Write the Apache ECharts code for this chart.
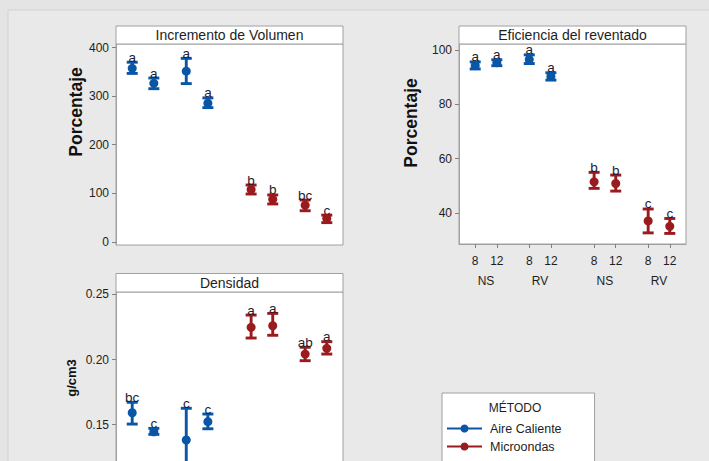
<!DOCTYPE html>
<html><head><meta charset="utf-8">
<script src="https://cdn.jsdelivr.net/npm/echarts@6/dist/echarts.min.js"></script>
<style>html,body{margin:0;padding:0;background:#e4e4e4;}#c{width:709px;height:461px;}</style>
</head><body><div id="c"></div>
<script>
// ---- categories ----
const metodos = ['Aire Caliente', 'Microondas'];
const tipos = ['NS', 'RV'];
const tiempos = ['8', '12'];
// group order: metodo -> tipo -> tiempo (8 groups)
// ---- Incremento de Volumen (%) ----
const volMedia = [357.5, 326.5, 351.5, 285.5, 108, 87.5, 75.5, 48];
const volInf   = [347, 315.5, 326, 276.5, 98.5, 78, 64, 39.5];
const volSup   = [370, 337.5, 378, 296.5, 117, 96.5, 86, 55];
const volLetras = ['a', 'a', 'a', 'a', 'b', 'b', 'bc', 'c'];
// ---- Eficiencia del reventado (%) ----
const efiMedia = [94.3, 95.3, 96.5, 90.2, 51.4, 50.8, 37.0, 35.0];
const efiInf   = [93.0, 94.2, 95.0, 88.9, 49.0, 48.0, 32.6, 32.4];
const efiSup   = [95.6, 96.4, 98.2, 91.6, 54.9, 53.9, 41.4, 37.9];
const efiLetras = ['a', 'a', 'a', 'a', 'b', 'b', 'c', 'c'];
// ---- Densidad (g/cm3) ----
const denMedia = [0.1592, 0.1446, 0.1383, 0.1523, 0.2247, 0.2259, 0.2042, 0.2086];
const denInf   = [0.1505, 0.1426, 0.1140, 0.1469, 0.2165, 0.2186, 0.1991, 0.2042];
const denSup   = [0.1672, 0.1472, 0.1626, 0.1582, 0.2341, 0.2354, 0.2094, 0.2137];
const denLetras = ['bc', 'c', 'c', 'c', 'a', 'a', 'ab', 'a'];
// ---- tick labels ----
const volTicks = [0, 100, 200, 300, 400];
const efiTicks = [40, 60, 80, 100];
const denTicks = [0.15, 0.20, 0.25];

const colores = ['#0a56a6', '#9a1a1d'];
const FONT = '"Liberation Sans", Arial, sans-serif';
const TXT = '#1e1e1e';

// slot layout on a category axis (blank spacer slots between groups)
const slotKeys = [], slotLabel = {}, slotGroup = {}, groupSlot = [], groupMetodo = [];
function addSlot(lbl) { const k = 's' + slotKeys.length; slotKeys.push(k); slotLabel[k] = lbl; slotGroup[k] = ''; return slotKeys.length - 1; }
function addBlank(n) { for (let i = 0; i < n; i++) addSlot(''); }
addBlank(1);
metodos.forEach((m, mi) => {
  if (mi > 0) addBlank(3);
  tipos.forEach((t, ti) => {
    if (ti > 0) addBlank(2);
    const first = groupSlot.length;
    tiempos.forEach((h, hi) => {
      if (hi > 0) addBlank(1);
      groupSlot.push(addSlot(h));
      groupMetodo.push(mi);
    });
    const c = (groupSlot[first] + groupSlot[groupSlot.length - 1]) / 2;
    slotGroup[slotKeys[c]] = t;
  });
});
addBlank(1);

function errData(media, inf, sup) { return media.map((m, i) => [groupSlot[i], m, inf[i], sup[i]]); }
function dotData(media) { return media.map((m, i) => [groupSlot[i], m]); }

function errRender(letras) {
  return function (params, api) {
    const x = api.value(0);
    const pHi = api.coord([x, api.value(3)]);
    const pLo = api.coord([x, api.value(2)]);
    const col = colores[groupMetodo[params.dataIndex]];
    const cap = 5.5, lw = 2.9;
    const st = { stroke: col, lineWidth: lw };
    return { type: 'group', children: [
      { type: 'line', shape: { x1: pHi[0], y1: pHi[1], x2: pLo[0], y2: pLo[1] }, style: st },
      { type: 'line', shape: { x1: pHi[0] - cap, y1: pHi[1], x2: pHi[0] + cap, y2: pHi[1] }, style: st },
      { type: 'line', shape: { x1: pLo[0] - cap, y1: pLo[1], x2: pLo[0] + cap, y2: pLo[1] }, style: st },
      { type: 'text', x: pHi[0], y: pHi[1] + 2,
        style: { text: letras[params.dataIndex], align: 'center', verticalAlign: 'bottom',
                 font: '13.5px ' + FONT, fill: '#1c1c30' } }
    ] };
  };
}

function yAx(grid, min, max, ticks, fmt) {
  return {
    type: 'value', gridIndex: grid, min: min, max: max,
    splitLine: { show: false },
    axisLine: { show: true, lineStyle: { color: '#a0a0a0' } },
    axisTick: { show: true, length: 4, customValues: ticks, lineStyle: { color: '#808080' } },
    axisLabel: { customValues: ticks, margin: 7, fontFamily: FONT, fontSize: 12, color: TXT, formatter: fmt }
  };
}
const labelShown = (i) => slotLabel[slotKeys[i]] !== '';

const chart = echarts.init(document.getElementById('c'), null, { renderer: 'svg' });
const gridBase = { show: true, backgroundColor: '#ffffff', borderColor: '#a0a0a0', borderWidth: 1, outerBoundsMode: 'none', containLabel: false };

chart.setOption({
  animation: false,
  backgroundColor: 'transparent',
  grid: [
    Object.assign({ left: 116, top: 44, width: 227, height: 201 }, gridBase),
    Object.assign({ left: 459, top: 44, width: 227, height: 200 }, gridBase),
    Object.assign({ left: 116, top: 292, width: 227, height: 200 }, gridBase)
  ],
  xAxis: [
    { type: 'category', gridIndex: 0, data: slotKeys, axisLine: { show: false }, axisTick: { show: false }, axisLabel: { show: false } },
    { type: 'category', gridIndex: 1, data: slotKeys, axisLine: { show: true, lineStyle: { color: '#a0a0a0' } },
      axisTick: { show: true, alignWithLabel: true, interval: labelShown, length: 4, lineStyle: { color: '#808080' } },
      axisLabel: { interval: labelShown, formatter: (v) => slotLabel[v], margin: 11, fontFamily: FONT, fontSize: 12, color: TXT } },
    { type: 'category', gridIndex: 1, data: slotKeys, position: 'bottom', axisLine: { show: false }, axisTick: { show: false },
      axisLabel: { interval: (i) => slotGroup[slotKeys[i]] !== '', formatter: (v) => slotGroup[v], margin: 31, fontFamily: FONT, fontSize: 12, color: TXT } },
    { type: 'category', gridIndex: 2, data: slotKeys, axisLine: { show: false }, axisTick: { show: false }, axisLabel: { show: false } }
  ],
  yAxis: [
    yAx(0, -6.6, 407.6, volTicks, (v) => String(v)),
    yAx(1, 28.5, 102.2, efiTicks, (v) => String(v)),
    yAx(2, 0.0984, 0.2518, denTicks, (v) => v.toFixed(2))
  ],
  legend: {
    data: metodos, orient: 'vertical', left: 442, top: 393, width: 300, height: 300, selectedMode: false,
    padding: [29, 33, 40, 4], itemWidth: 35, itemHeight: 10, itemGap: 5,
    backgroundColor: '#ffffff', borderColor: '#a0a0a0', borderWidth: 1,
    textStyle: { fontFamily: FONT, fontSize: 12.5, color: TXT, padding: [0, 0, 0, 3] }
  },
  graphic: [
    { type: 'rect', z: -10, shape: { x: 8, y: 10, width: 720, height: 470 }, style: { fill: '#e9e9e9', stroke: '#d2d2d2', lineWidth: 1 }, silent: true },
    { type: 'rect', shape: { x: 116, y: 26, width: 227, height: 18 }, style: { fill: '#fff', stroke: '#a0a0a0', lineWidth: 1 } },
    { type: 'text', x: 229.5, y: 35, style: { text: 'Incremento de Volumen', font: '14px ' + FONT, fill: TXT, align: 'center', verticalAlign: 'middle' } },
    { type: 'rect', shape: { x: 459, y: 26, width: 227, height: 18 }, style: { fill: '#fff', stroke: '#a0a0a0', lineWidth: 1 } },
    { type: 'text', x: 572.5, y: 35, style: { text: 'Eficiencia del reventado', font: '14px ' + FONT, fill: TXT, align: 'center', verticalAlign: 'middle' } },
    { type: 'rect', shape: { x: 116, y: 273.5, width: 227, height: 18.5 }, style: { fill: '#fff', stroke: '#a0a0a0', lineWidth: 1 } },
    { type: 'text', x: 229.5, y: 283, style: { text: 'Densidad', font: '14px ' + FONT, fill: TXT, align: 'center', verticalAlign: 'middle' } },
    { type: 'text', x: 75.5, y: 112, rotation: Math.PI / 2, style: { text: 'Porcentaje', font: 'bold 17.5px ' + FONT, fill: '#111', align: 'center', verticalAlign: 'middle' } },
    { type: 'text', x: 410.7, y: 123, rotation: Math.PI / 2, style: { text: 'Porcentaje', font: 'bold 17.5px ' + FONT, fill: '#111', align: 'center', verticalAlign: 'middle' } },
    { type: 'text', x: 71.5, y: 378, rotation: Math.PI / 2, style: { text: 'g/cm3', font: 'bold 13px ' + FONT, fill: '#111', align: 'center', verticalAlign: 'middle' } },
    { type: 'text', x: 515, y: 408, z: 100, style: { text: 'MÉTODO', font: '12px ' + FONT, fill: TXT, align: 'center', verticalAlign: 'middle' } }
  ],
  series: [
    { name: metodos[0], type: 'line', data: [], xAxisIndex: 0, yAxisIndex: 0, symbol: 'circle', color: colores[0], lineStyle: { width: 2.8, color: colores[0] }, itemStyle: { color: colores[0] } },
    { name: metodos[1], type: 'line', data: [], xAxisIndex: 0, yAxisIndex: 0, symbol: 'circle', color: colores[1], lineStyle: { width: 2.8, color: colores[1] }, itemStyle: { color: colores[1] } },
    { name: 'vol-err', type: 'custom', xAxisIndex: 0, yAxisIndex: 0, data: errData(volMedia, volInf, volSup), renderItem: errRender(volLetras) },
    { name: 'vol-media', type: 'scatter', xAxisIndex: 0, yAxisIndex: 0, data: dotData(volMedia), symbolSize: 9, itemStyle: { opacity: 1, color: (p) => colores[groupMetodo[p.dataIndex]] } },
    { name: 'efi-err', type: 'custom', xAxisIndex: 1, yAxisIndex: 1, data: errData(efiMedia, efiInf, efiSup), renderItem: errRender(efiLetras) },
    { name: 'efi-media', type: 'scatter', xAxisIndex: 1, yAxisIndex: 1, data: dotData(efiMedia), symbolSize: 9, itemStyle: { opacity: 1, color: (p) => colores[groupMetodo[p.dataIndex]] } },
    { name: 'den-err', type: 'custom', xAxisIndex: 3, yAxisIndex: 2, data: errData(denMedia, denInf, denSup), renderItem: errRender(denLetras) },
    { name: 'den-media', type: 'scatter', xAxisIndex: 3, yAxisIndex: 2, data: dotData(denMedia), symbolSize: 9, itemStyle: { opacity: 1, color: (p) => colores[groupMetodo[p.dataIndex]] } }
  ]
});
</script></body></html>
